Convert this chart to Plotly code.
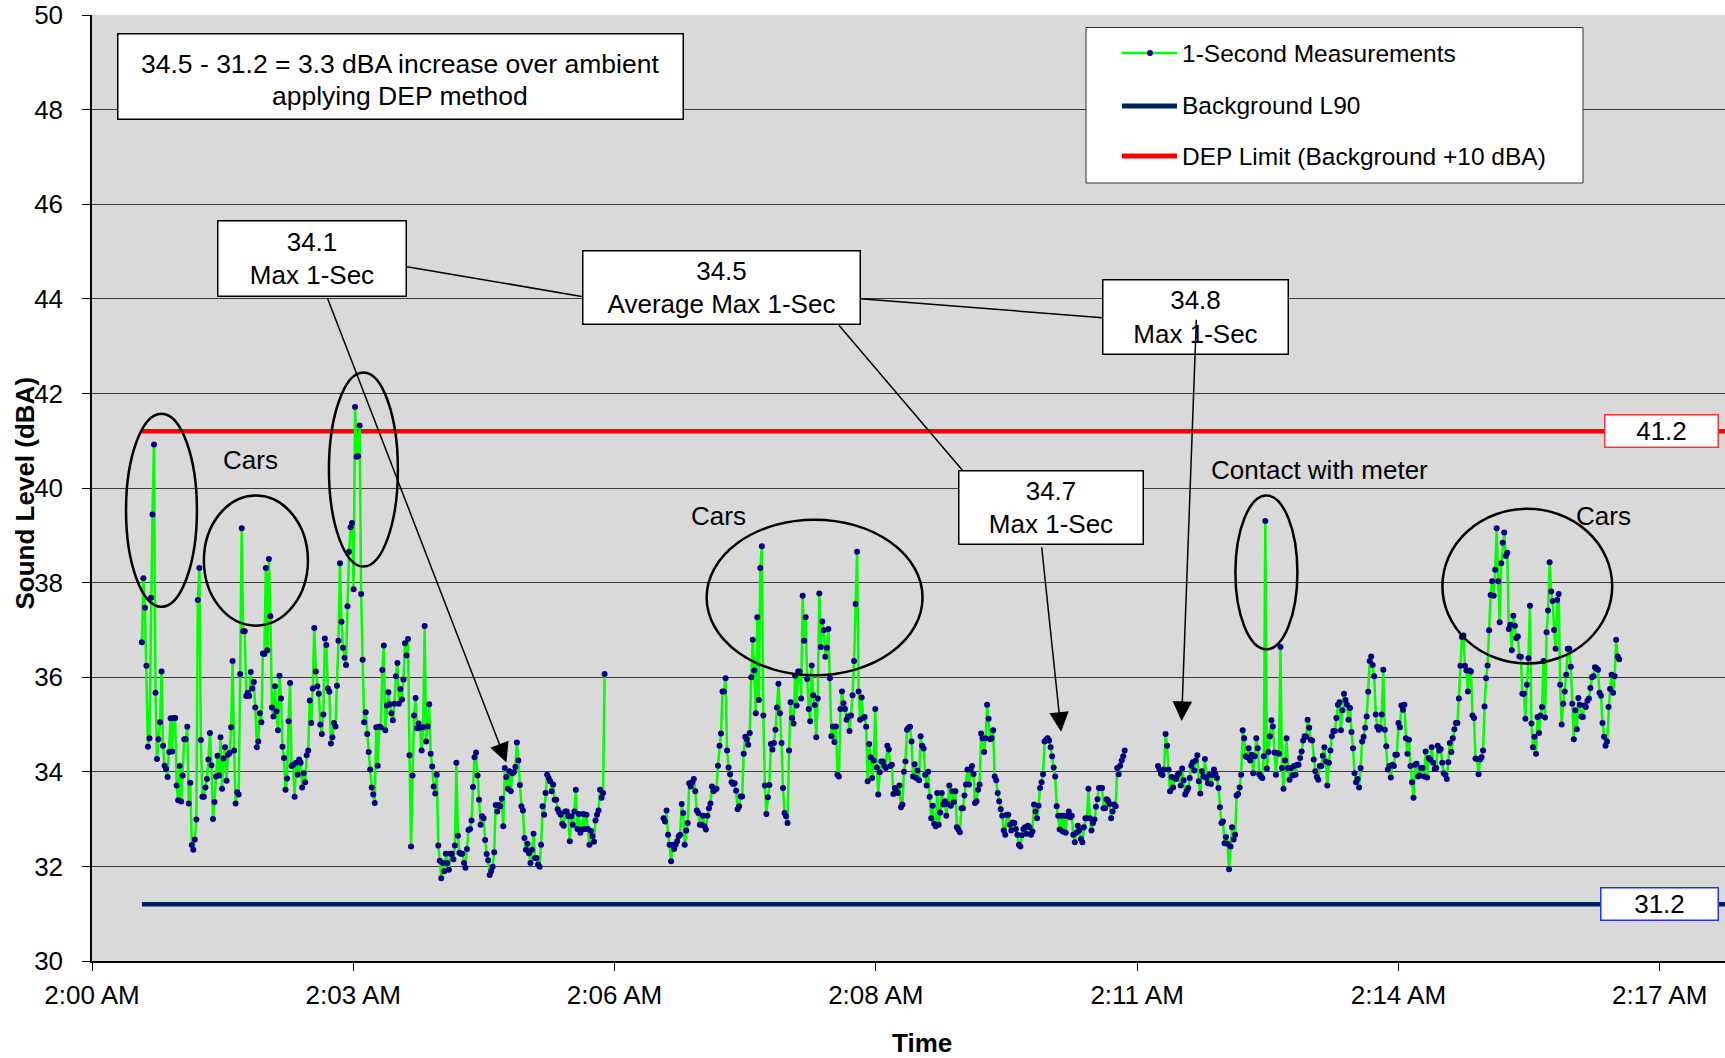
import plotly.graph_objects as go

# ---- 1-second sound level readings (dBA), three recording runs ----
run_a_start = 33    # seconds after 2:00:00 AM
run_a = [
    36.74, 38.09, 37.47, 36.24, 34.53, 34.71, 37.68, 39.44, 40.92, 35.67,
    34.27, 34.69, 35.05, 36.12, 34.55, 34.13, 34.06, 33.89, 34.42, 35.13,
    34.43, 35.14, 35.14, 33.71, 33.40, 34.12, 33.37, 33.92, 34.69, 34.69,
    34.95, 33.33, 33.77, 32.45, 32.35, 32.57, 32.99, 37.63, 38.31, 34.67,
    33.47, 33.47, 33.67, 33.85, 34.26, 34.82, 34.14, 33.00, 33.36, 33.90,
    34.34, 33.92, 34.73, 33.64, 34.28, 34.52, 33.81, 34.36, 34.40, 34.94,
    36.34, 34.45, 33.33, 33.57, 33.52, 36.07, 39.15, 36.97, 36.97, 35.60,
    35.67, 35.60, 36.11, 35.76, 35.90, 35.36, 34.52, 34.64, 35.24, 35.05,
    36.50, 36.49, 38.31, 36.57, 38.50, 37.29, 35.36, 35.17, 35.81, 35.28,
    34.88, 36.03, 35.55, 34.53, 34.29, 33.62, 33.86, 35.07, 35.88, 34.12,
    34.15, 33.47, 34.19, 33.94, 34.26, 34.19, 33.67, 33.97, 33.78, 34.35,
    34.45, 35.51, 35.03, 35.76, 37.04, 36.12, 35.81, 35.65, 35.00, 34.80,
    35.21, 36.82, 36.68, 35.76, 35.69, 34.60, 34.73, 35.03, 34.96, 35.82,
    36.77, 38.41, 37.17, 36.62, 36.41, 36.26, 37.50, 38.65, 39.17, 39.26,
    37.86, 41.71, 40.66, 40.67, 41.32, 37.76, 36.37, 35.05, 35.26, 34.80,
    34.42, 34.05, 33.67, 33.52, 33.34, 34.94, 34.13,
    34.95, 34.94, 36.15, 36.67, 34.88, 35.40, 35.68, 35.43, 35.24, 35.09,
    35.44, 36.02, 36.30, 35.44, 35.75, 35.53, 35.95, 36.72, 36.46, 36.81,
    34.35, 32.42, 33.92, 35.19, 35.56, 34.92, 35.02, 34.93, 34.45, 34.94,
    37.08, 34.64, 34.96, 35.43, 34.38, 34.11, 33.69, 33.54, 33.94, 32.44,
    32.12, 31.75, 32.07, 31.90, 32.27, 32.07, 31.93, 32.27, 32.27, 32.15,
    32.44, 34.19, 32.65, 32.29, 32.27, 32.27, 32.07, 31.97, 32.37, 32.77,
    32.79, 32.97, 33.68, 34.31, 34.41, 33.92, 33.41, 32.88, 33.06, 33.02,
    32.56, 32.26, 32.13, 31.82, 31.90, 31.99, 32.30, 33.30, 33.16, 33.30,
    33.27, 33.43, 32.85, 34.08, 33.89, 33.64, 34.01, 33.59, 33.97, 33.99,
    34.10, 34.62, 34.24, 33.72, 33.27, 33.18, 32.60, 32.35, 32.48, 32.28,
    32.07, 32.35, 32.69, 32.18, 32.18, 32.04, 31.99, 32.46, 33.27, 33.09,
    33.55, 33.94, 33.87, 33.80, 33.59, 33.73, 33.41, 33.41, 33.21, 33.14,
    33.09, 32.90, 32.86, 33.16, 33.16, 33.06, 32.53, 33.06, 32.88, 33.16,
    33.62, 32.79, 33.11, 32.71, 32.78, 33.11, 32.79, 33.09, 32.79, 32.46,
    32.75, 32.64, 32.52, 32.97, 33.09, 33.18, 33.62, 33.45, 33.55, 36.07,
]

run_b_start = 378
run_b = [
    33.02, 32.95, 33.18, 32.67, 32.46, 32.11, 32.46, 32.37, 32.46, 32.53,
    32.64, 32.67, 33.32, 33.13, 32.46, 32.76, 32.92, 33.76, 33.69, 33.78,
    33.85, 33.59, 33.18, 33.13, 32.88, 32.88, 33.07, 32.85, 32.78, 33.07,
    33.23, 33.33, 33.69, 33.59, 33.62, 33.64, 34.13, 34.55, 34.81, 35.70,
    35.70, 35.98, 34.45, 34.09, 33.95, 33.78, 33.74, 33.76, 33.60, 33.21,
    33.27, 33.48, 33.48, 34.38, 34.74, 34.69, 34.57, 34.82, 36.00, 36.79,
    36.14, 35.24, 37.27, 35.52, 38.31, 38.77, 35.19, 33.71, 33.11, 33.46,
    33.72, 34.59, 34.47, 34.61, 34.89, 35.36, 35.86, 35.24, 34.61, 33.66,
    33.13, 33.06, 32.92, 34.45, 35.47, 35.14, 35.02, 36.03, 35.40, 36.12,
    36.12, 35.55, 37.72, 36.77, 37.27, 35.96, 35.33, 35.07, 36.25, 35.62,
    35.41, 34.73, 35.55, 37.77, 36.64, 37.18, 36.99, 36.43, 36.62, 37.02,
    35.98, 34.75, 34.96, 34.63, 34.96, 33.94, 33.90, 35.33, 35.70, 35.45,
    35.33, 35.10, 35.17, 34.86, 35.19, 35.62, 36.34, 37.55, 38.65, 35.70,
    35.10, 35.57, 35.14, 35.16, 34.95, 33.80, 34.59, 34.31, 33.87, 34.24,
    35.33, 34.09, 33.52, 33.99, 34.22, 34.22, 34.12, 34.08, 34.55, 34.47,
    34.12, 34.15, 33.53, 33.66, 33.59, 33.55, 33.71, 33.25, 33.31, 34.00,
    34.22, 34.89,
    34.93, 34.95, 34.64, 33.90, 34.16, 33.87, 34.03, 33.82, 34.75, 34.55,
    34.49, 33.94, 33.71, 34.00, 33.47, 33.02, 33.28, 32.90, 32.85, 33.55,
    32.88, 33.14, 33.55, 33.31, 33.38, 33.07, 33.32, 33.71, 33.28, 33.59,
    33.36, 33.59, 32.83, 32.78, 32.72, 33.23, 33.23, 33.50, 33.73, 34.05,
    33.73, 34.05, 34.12, 33.95, 33.34, 33.38, 33.62, 33.73, 34.81, 34.71,
    34.42, 34.71, 35.42, 35.12, 34.69, 34.71, 34.88, 33.90, 33.82, 33.55,
    33.38, 33.21, 33.07, 32.76, 32.67, 33.09, 33.09, 32.88, 32.76, 32.93,
    32.92, 32.79, 32.67, 32.46, 32.42, 32.66, 32.79, 32.83, 32.69, 32.86,
    32.83, 32.67, 32.74, 33.31, 33.16, 33.02, 33.28, 33.66, 33.78, 33.95,
    34.64, 34.68, 34.71, 34.66, 34.52, 34.33, 34.09, 33.90, 33.27, 33.07,
    32.78, 33.07, 32.74, 33.07, 32.71, 33.07, 33.16, 33.04, 33.07, 32.67,
    32.51, 32.71, 32.86, 32.76, 32.58, 32.51, 32.83, 33.02, 33.02, 33.64,
    33.02, 32.76, 32.92, 32.99, 33.26, 33.42, 33.66, 33.66, 33.66, 33.23,
    33.23, 33.42, 33.39, 33.32, 33.02, 33.16, 33.31, 33.27, 34.08, 33.95,
    34.13, 34.24, 34.33, 34.45,
]

run_c_start = 705
run_c = [
    34.12, 34.05, 33.96, 33.93, 34.05, 34.80, 34.55, 34.05, 33.59, 33.89,
    33.67, 33.87, 33.85, 33.94, 33.97, 33.71, 34.07, 33.82, 33.52, 33.59,
    33.66, 33.87, 34.13, 34.20, 34.03, 34.24, 34.35, 33.80, 33.54, 34.01,
    33.90, 34.27, 33.87, 33.76, 33.94, 33.74, 33.93, 34.05, 33.95, 33.87,
    33.66, 33.25, 32.92, 32.95, 32.49, 32.62, 32.48, 31.94, 32.42, 32.83,
    32.57, 32.67, 33.50, 33.53, 33.67, 33.94, 34.88, 34.71, 34.33, 34.31,
    34.50, 34.24, 34.36, 33.97, 34.33, 34.71, 34.50, 33.95, 33.90, 33.87,
    34.33, 39.30, 34.07, 34.42, 34.75, 35.09, 34.96, 34.41, 33.94, 34.40,
    34.38, 36.64, 34.08, 33.64, 34.24, 34.71, 34.08, 33.83, 34.08, 33.92,
    34.12, 33.94, 34.15, 34.15, 34.29, 34.43, 34.66, 34.75, 34.74, 35.10,
    34.93, 34.68, 34.66, 34.26, 34.01, 33.89, 33.83, 34.12, 34.12, 34.34,
    34.52, 34.22, 33.71, 34.19, 34.45, 34.75, 34.86, 34.86, 35.14, 35.42,
    35.47, 34.88, 35.30, 35.65, 35.52, 35.42, 35.10, 35.35, 34.84, 34.50,
    33.97, 33.78, 33.85, 33.67, 34.08, 34.64, 34.74, 34.93, 35.17, 35.69,
    36.34, 36.44, 36.26, 36.02, 35.21, 34.95, 34.89, 34.93, 35.21, 36.16,
    34.89, 34.54, 34.05, 34.12, 33.88, 34.15,
    34.12, 34.36, 34.36, 35.03, 34.94, 35.40, 35.31, 35.42, 34.71, 34.38,
    34.68, 34.12, 33.78, 33.45, 34.15, 34.17, 33.90, 33.92, 34.08, 34.08,
    33.90, 34.43, 33.88, 34.29, 34.26, 34.52, 34.19, 34.06, 34.08, 34.55,
    34.45, 34.48, 34.19, 33.97, 33.94, 33.85, 34.20, 34.61, 34.42, 34.71,
    34.90, 35.03, 35.03, 35.55, 36.24, 36.85, 36.88, 36.24, 36.14, 35.70,
    36.14, 36.12, 35.19, 35.14, 34.28, 34.27, 33.95, 34.26, 34.31, 34.45,
    35.38, 35.98, 36.25, 36.99, 37.74, 38.03, 37.72, 38.27, 39.15, 38.03,
    37.16, 38.41, 38.84, 39.06, 38.56, 38.63, 37.02, 37.11, 36.57, 37.30,
    37.09, 36.83, 36.86, 36.44, 36.43, 35.65, 35.65, 35.12, 35.84, 36.40,
    37.51, 35.02, 34.52, 34.74, 34.38, 35.16, 34.82, 35.19, 35.37, 36.34,
    35.15, 36.95, 37.41, 38.43, 37.81, 37.61, 37.00, 36.60, 37.63, 37.76,
    35.84, 35.00, 35.44, 35.70, 36.05, 36.60, 36.60, 36.22, 35.44, 34.69,
    35.30, 34.90, 35.56, 35.42, 35.17, 35.16, 35.40, 35.37, 35.50, 35.55,
    35.77, 36.00, 36.02, 36.21, 36.19, 36.16, 35.67, 35.61, 35.03, 34.74,
    34.55, 34.64, 35.37, 35.75, 36.05, 35.67, 36.02, 36.79, 36.44, 36.38,
]

# ---- reference levels (dBA) ----
background_l90 = 31.2
dep_limit = 41.2
avg_max_1sec = 34.5
run_max = {"a": 34.1, "b": 34.7, "c": 34.8}

# ---- time axis: seconds after 2:00 AM, ticks every 0.002 day ----
tick_seconds = [0, 172.8, 345.6, 518.4, 691.2, 864.0, 1036.8]
tick_labels = ["2:00 AM", "2:03 AM", "2:06 AM", "2:08 AM", "2:11 AM", "2:14 AM", "2:17 AM"]
x_end = 1080
line_start = 33

FONT = "Liberation Sans, Arial, sans-serif"
GREEN, NAVY_DOT, NAVY_LINE, RED = "#00FF00", "#000080", "#002060", "#FF0000"
name_meas = "1-Second Measurements"
name_l90 = "Background L90"
name_dep = "DEP Limit (Background +10 dBA)"

# plot-area geometry (pixels) used to place the legend box and titles
W, H = 1725, 1058
ML, MR, MT, MB = 92, 0, 15, 97
PW, PH = W - ML - MR, H - MT - MB


def px(xpix):
    return (xpix - ML) / PW


def py(ypix):
    return (H - MB - ypix) / PH


# join runs, with breaks between them
xs, ys = [], []
for start, vals in ((run_a_start, run_a), (run_b_start, run_b), (run_c_start, run_c)):
    if xs:
        xs.append(None)
        ys.append(None)
    xs.extend(start + i for i in range(len(vals)))
    ys.extend(vals)

fig = go.Figure()
fig.add_trace(go.Scatter(
    x=[line_start, x_end], y=[background_l90, background_l90], mode="lines",
    line=dict(color=NAVY_LINE, width=4.5), name=name_l90, hoverinfo="skip"))
fig.add_trace(go.Scatter(
    x=[line_start, x_end], y=[dep_limit, dep_limit], mode="lines",
    line=dict(color=RED, width=4.5), name=name_dep, hoverinfo="skip"))
fig.add_trace(go.Scatter(
    x=xs, y=ys, mode="lines+markers", connectgaps=False,
    line=dict(color=GREEN, width=2.5),
    marker=dict(color=NAVY_DOT, size=6),
    name=name_meas))

annotations = []
shapes = []


def box(text, x, y, w, h, size=26, yshift=0):
    annotations.append(dict(
        x=x, y=y, xref="x", yref="y", text=text, showarrow=False,
        font=dict(family=FONT, size=size, color="black"),
        bgcolor="white", bordercolor="black", borderwidth=1.5, borderpad=0,
        width=w, height=h, align="center", valign="middle", yshift=yshift))


def arrow(x_tip, y_tip, x_from, y_from, standoff):
    annotations.append(dict(
        x=x_tip, y=y_tip, ax=x_from, ay=y_from, xref="x", yref="y",
        axref="x", ayref="y", text="", showarrow=True,
        arrowhead=2, arrowsize=2.6, arrowwidth=1.5, arrowcolor="black",
        standoff=standoff))


def label(text, x, y, size=26):
    annotations.append(dict(
        x=x, y=y, xref="x", yref="y", text=text, showarrow=False,
        font=dict(family=FONT, size=size, color="black")))


# summary box: white frame, then its two text lines
annotations.append(dict(
    x=203.9, y=48.69, xref="x", yref="y", text=" ", showarrow=False,
    bgcolor="white", bordercolor="black", borderwidth=1.5, borderpad=0,
    width=564, height=84))
label(f"{avg_max_1sec:.1f} - {background_l90:.1f} = {avg_max_1sec - background_l90:.1f} dBA "
      f"increase over ambient", 203.9, 48.96, size=26.5)
label("applying DEP method", 203.9, 48.28, size=26.5)

box(f"{run_max['a']:.1f}<br>Max 1-Sec", 145.4, 44.86, 187, 74)
box(f"{avg_max_1sec:.1f}<br>Average Max 1-Sec", 416.1, 44.23, 276, 72)
box(f"{run_max['b']:.1f}<br>Max 1-Sec", 634.3, 39.58, 183, 72)
box(f"{run_max['c']:.1f}<br>Max 1-Sec", 730.1, 43.62, 184, 73)

arrow(275.3, run_max["a"], 155.3, 44.05, 5)
arrow(641.4, run_max["b"], 628.0, 38.78, 7)
arrow(720.3, run_max["c"], 730.4, 43.59, 13)

label("Cars", 104.9, 40.60)
label("Cars", 414.3, 39.40)
label("Contact with meter", 811.7, 40.39)
label("Cars", 999.5, 39.40)

# values of the two reference lines at their right end
for val, col, xc, w in ((dep_limit, "#FF3333", 1038.0, 112), (background_l90, "#2233FF", 1036.5, 116)):
    annotations.append(dict(
        x=xc, y=val, xref="x", yref="y", text=f"{val:.1f}", showarrow=False,
        font=dict(family=FONT, size=26, color="black"),
        bgcolor="white", bordercolor=col, borderwidth=1.5, borderpad=0,
        width=w, height=31))

# axis titles
annotations.append(dict(
    x=px(24.5), y=py(493), xref="paper", yref="paper", text="Sound Level (dBA)",
    textangle=-90, showarrow=False, xanchor="center", yanchor="middle",
    font=dict(family=FONT, size=26, color="black", weight="bold")))
annotations.append(dict(
    x=px(922), y=py(1043), xref="paper", yref="paper", text="Time",
    showarrow=False, xanchor="center", yanchor="middle",
    font=dict(family=FONT, size=26, color="black", weight="bold")))

# leader lines joining the run maxima to the average box
for x0, y0, x1, y1 in ((208.2, 44.68, 323.9, 44.05),
                       (508.3, 44.00, 668.3, 43.60),
                       (494.0, 43.44, 575.8, 40.37)):
    shapes.append(dict(type="line", xref="x", yref="y", x0=x0, y0=y0, x1=x1, y1=y1,
                       line=dict(color="black", width=1.5)))
# event outlines
for x0, x1, y0, y1 in ((22.5, 69.4, 37.49, 41.57),
                       (74.0, 142.8, 37.09, 39.84),
                       (156.7, 202.3, 38.34, 42.44),
                       (406.5, 549.3, 36.04, 39.33),
                       (756.2, 797.2, 36.59, 39.84),
                       (893.1, 1005.4, 36.29, 39.56)):
    shapes.append(dict(type="circle", xref="x", yref="y", x0=x0, x1=x1, y0=y0, y1=y1,
                       line=dict(color="black", width=2.5)))

# legend box
shapes.append(dict(type="rect", xref="paper", yref="paper",
                   x0=px(1086), x1=px(1583), y0=py(183), y1=py(27.5),
                   fillcolor="white", line=dict(color="#333333", width=1)))
legend_rows = ((name_meas, GREEN, 2.5, 53, True),
               (name_l90, NAVY_LINE, 5, 106, False),
               (name_dep, RED, 5, 156, False))
for name, col, lw, yrow, dot in legend_rows:
    shapes.append(dict(type="line", xref="paper", yref="paper",
                       x0=px(1122), x1=px(1177), y0=py(yrow), y1=py(yrow),
                       line=dict(color=col, width=lw)))
    if dot:
        shapes.append(dict(type="circle", xref="paper", yref="paper",
                           xsizemode="pixel", ysizemode="pixel",
                           xanchor=px(1150), yanchor=py(yrow),
                           x0=-3, x1=3, y0=-3, y1=3,
                           fillcolor=NAVY_DOT, line=dict(color=NAVY_DOT, width=0)))
    annotations.append(dict(
        x=px(1180), y=py(yrow), xref="paper", yref="paper", text=name,
        showarrow=False, xanchor="left", yanchor="middle",
        font=dict(family=FONT, size=24.5, color="black")))

fig.update_layout(
    width=W, height=H,
    margin=dict(l=ML, r=MR, t=MT, b=MB),
    paper_bgcolor="white", plot_bgcolor="#D9D9D9",
    font=dict(family=FONT, color="black"),
    showlegend=False,
    annotations=annotations, shapes=shapes,
    xaxis=dict(range=[0, x_end], tickmode="array", tickvals=tick_seconds, ticktext=tick_labels,
               showgrid=False, zeroline=False, showline=True, linecolor="black", linewidth=2,
               ticks="outside", ticklen=8, tickcolor="black", ticklabelstandoff=2,
               tickfont=dict(family=FONT, size=26, color="black")),
    yaxis=dict(range=[30, 50], dtick=2, tick0=30, showgrid=True, gridcolor="#3a3a3a", gridwidth=1,
               zeroline=False, showline=True, linecolor="black", linewidth=1.5,
               ticks="outside", ticklen=8, tickcolor="black", ticklabelstandoff=14,
               tickfont=dict(family=FONT, size=26, color="black")),
)

fig.write_html("out.html")
